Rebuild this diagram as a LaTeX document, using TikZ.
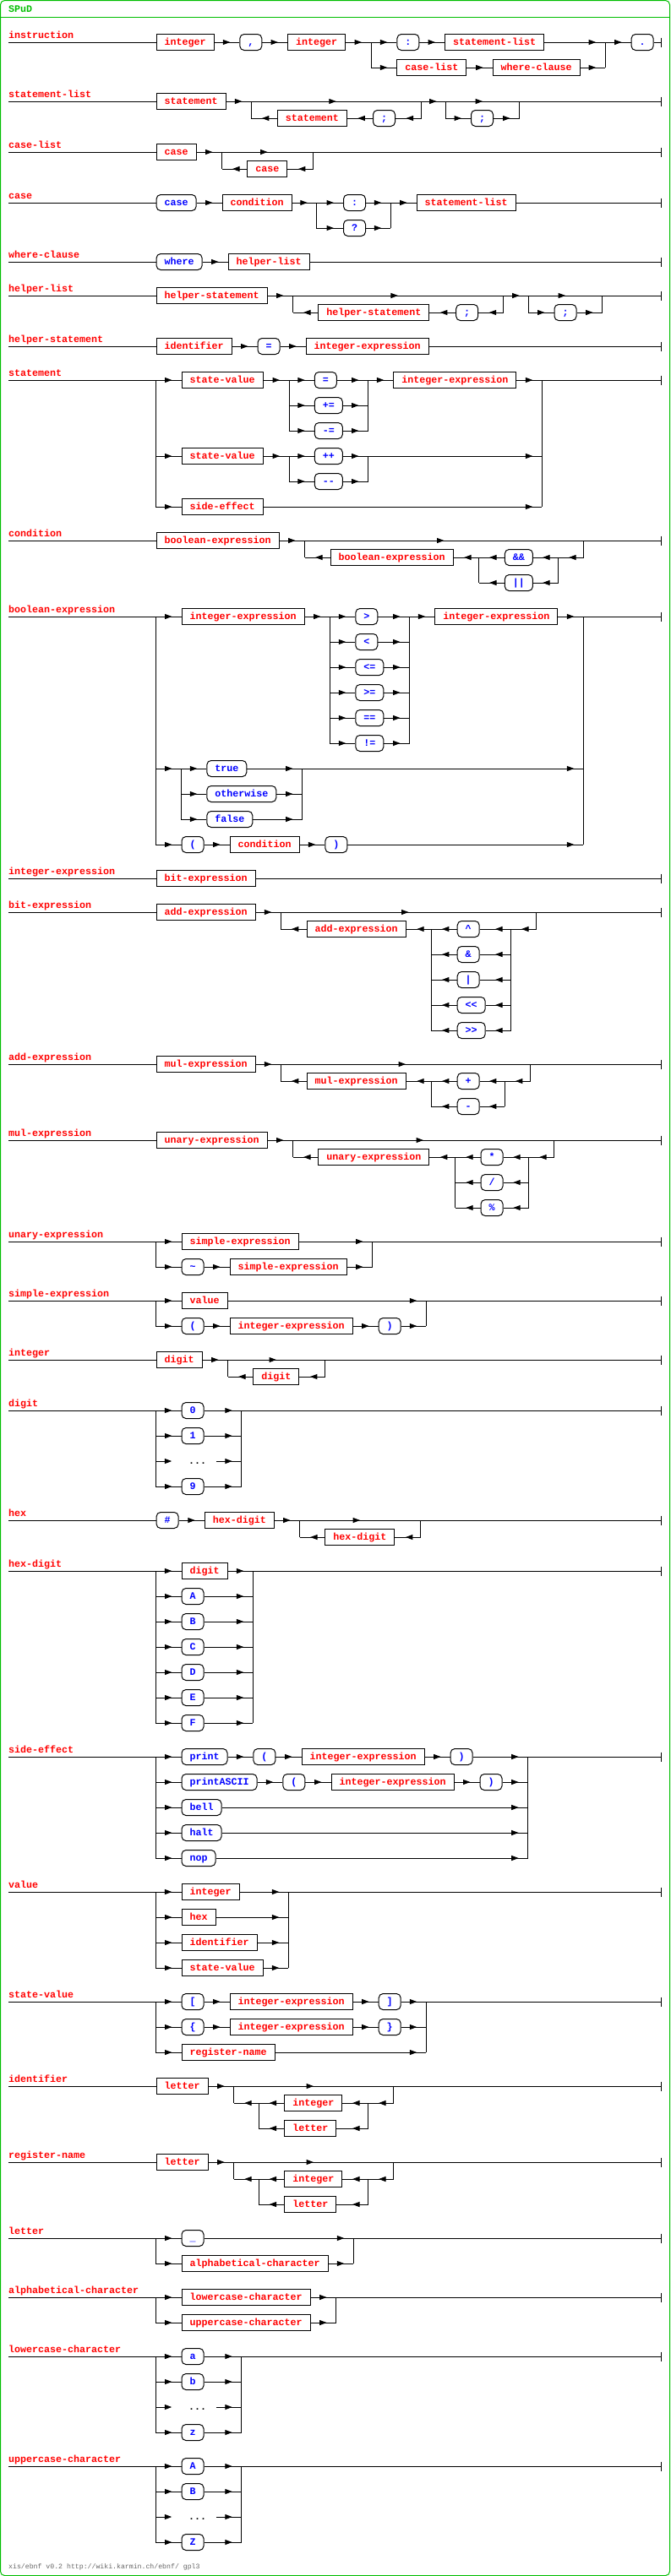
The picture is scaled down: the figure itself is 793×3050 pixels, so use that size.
\documentclass[tikz,border=0pt]{standalone}
\usepackage{fontspec}
\usetikzlibrary{arrows.meta,decorations.markings}
\newfontfamily\railmono{Liberation Mono}[Ligatures=TeXOff]
\newcommand\railfont{\railmono\bfseries\fontsize{11.67pt}{12pt}\selectfont}
\newcommand\footfont{\railmono\fontsize{8.2pt}{9pt}\selectfont}
\definecolor{spudgreen}{RGB}{0,190,0}
\tikzset{
	>={Triangle[length=8.5pt,width=6pt]},
	lnk/.style={draw,line width=1pt},
	arr/.style={lnk,postaction={decorate,decoration={markings,mark=at position #1 with {\arrow{>}}}}},
	arr/.default=-11pt,
	bck/.style={arr=-12.5pt},
	bckop/.style={arr=18.5pt},
	mid/.style={arr=0.5},
	fin/.style={lnk,-{Bar[width=11pt]}},
	nt/.style={draw,line width=1pt,anchor=west,text=red,font=\railfont,minimum height=19pt,inner xsep=9.5pt,inner ysep=0pt,text height=8pt,text depth=2pt},
	term/.style={nt,rounded corners=5pt,text=blue},
	dots/.style={anchor=west,font=\railfont,minimum width=52.1pt,minimum height=19pt,inner sep=0pt,text height=8pt,text depth=2pt},
	rulename/.style={anchor=base west,inner sep=0pt,text=red,font=\railfont}
}
\begin{document}
\begin{tikzpicture}[x=1pt,y=-1pt]
	\useasboundingbox (0,0) rectangle (793,3050);
	\draw[spudgreen,line width=1pt,rounded corners=5pt] (0.5,0.5) rectangle (792.5,3049.5);
	\draw[spudgreen,line width=1pt] (0.5,20.5) -- (792.5,20.5);
	\node[rulename,text=spudgreen] (title) at (10,14) {SPuD};
	\node[anchor=base west,inner sep=0pt,text=black!60,font=\footfont] (footer) at (10,3041) {xis/ebnf v0.2 http://wiki.karmin.ch/ebnf/ gpl3};
	\foreach \ry/\rt [count=\rk] in {50/instruction,120/statement-list,180/case-list,240/case,310/where-clause,
		350/helper-list,410/helper-statement,450/statement,640/condition,730/boolean-expression,
		1040/integer-expression,1080/bit-expression,1260/add-expression,1350/mul-expression,
		1470/unary-expression,1540/simple-expression,1610/integer,1670/digit,1800/hex,1860/hex-digit,
		2080/side-effect,2240/value,2370/state-value,2470/identifier,2560/register-name,2650/letter,
		2720/alphabetical-character,2790/lowercase-character,2920/uppercase-character} {
		\node[rulename] (n\rk) at (10,\ry-5) {\rt};
		\coordinate (s\rk) at (10,\ry);
		\coordinate (e\rk) at (783,\ry);
	}

	\node[nt] (i1) at (184.6,50) {integer};
	\node[term] (i2) at (283.3,50) {,};
	\node[nt] (i3) at (340,50) {integer};
	\coordinate (i4) at (439,50);
	\node[term] (i5) at (469.4,50) {:};
	\node[nt] (i6) at (526,50) {statement-list};
	\node[nt] (i7) at (469.4,80) {case-list};
	\node[nt] (i8) at (582.7,80) {where-clause};
	\coordinate (i9) at (716.2,50);
	\node[term] (i10) at (746.6,50) {.};
	\draw[lnk] (s1) -- (i1);
	\draw[arr] (i1) -- (i2);
	\draw[arr] (i2) -- (i3);
	\draw[arr] (i3) -- (i4);
	\draw[arr] (i4) -- (i5);
	\draw[arr] (i4) |- (i7);
	\draw[arr] (i5) -- (i6);
	\draw[arr] (i7) -- (i8);
	\draw[arr] (i6) -- (i9);
	\draw[arr] (i8) -- (i8 -| i9);
	\draw[lnk] (i9) -- (i9 |- i8);
	\draw[arr] (i9) -- (i10);
	\draw[fin] (i10) -- (e1);

	\node[nt] (sl1) at (184.6,120) {statement};
	\coordinate (sl2) at (297.4,120);
	\coordinate (sl3) at (498.2,120);
	\node[nt] (sl4) at (327.8,140) {statement};
	\node[term] (sl5) at (441,140) {;};
	\coordinate (sl6) at (527.6,120);
	\coordinate (sl7) at (614.6,120);
	\node[term] (sl8) at (557,140) {;};
	\draw[lnk] (s2) -- (sl1);
	\draw[arr] (sl1) -- (sl2);
	\draw[mid] (sl2) -- (sl3);
	\draw[bck] (sl3) |- (sl5);
	\draw[bck] (sl5) -- (sl4);
	\draw[bck] (sl4) -- (sl4 -| sl2);
	\draw[lnk] (sl4 -| sl2) -- (sl2);
	\draw[arr] (sl3) -- (sl6);
	\draw[mid] (sl6) -- (sl7);
	\draw[arr] (sl6) |- (sl8);
	\draw[arr] (sl8) -- (sl8 -| sl7);
	\draw[lnk] (sl8 -| sl7) -- (sl7);
	\draw[fin] (sl7) -- (e2);

	\node[nt] (cl1) at (184.6,180) {case};
	\coordinate (cl2) at (262.5,180);
	\coordinate (cl3) at (370.8,180);
	\node[nt] (cl4) at (292.4,200) {case};
	\draw[lnk] (s3) -- (cl1);
	\draw[arr] (cl1) -- (cl2);
	\draw[mid] (cl2) -- (cl3);
	\draw[bck] (cl3) |- (cl4);
	\draw[bck] (cl4) -- (cl4 -| cl2);
	\draw[lnk] (cl4 -| cl2) -- (cl2);
	\draw[fin] (cl3) -- (e3);

	\node[term] (c1) at (184.6,240) {case};
	\node[nt] (c2) at (262.5,240) {condition};
	\coordinate (c3) at (374.8,240);
	\node[term] (c4) at (406,240) {:};
	\node[term] (c5) at (406,270) {?};
	\coordinate (c6) at (462.3,240);
	\node[nt] (c7) at (492.7,240) {statement-list};
	\draw[lnk] (s4) -- (c1);
	\draw[arr] (c1) -- (c2);
	\draw[arr] (c2) -- (c3);
	\draw[arr] (c3) -- (c4);
	\draw[arr] (c3) |- (c5);
	\draw[arr] (c4) -- (c6);
	\draw[arr] (c5) -- (c5 -| c6);
	\draw[lnk] (c5 -| c6) -- (c6);
	\draw[arr] (c6) -- (c7);
	\draw[fin] (c7) -- (e4);

	\node[term] (w1) at (184.6,310) {where};
	\node[nt] (w2) at (269.6,310) {helper-list};
	\draw[lnk] (s5) -- (w1);
	\draw[arr] (w1) -- (w2);
	\draw[fin] (w2) -- (e5);

	\node[nt] (hl1) at (184.6,350) {helper-statement};
	\coordinate (hl2) at (346.5,350);
	\coordinate (hl3) at (595.4,350);
	\node[nt] (hl4) at (376.3,370) {helper-statement};
	\node[term] (hl5) at (539.2,370) {;};
	\coordinate (hl6) at (625.7,350);
	\coordinate (hl7) at (712.7,350);
	\node[term] (hl8) at (655.5,370) {;};
	\draw[lnk] (s6) -- (hl1);
	\draw[arr] (hl1) -- (hl2);
	\draw[mid] (hl2) -- (hl3);
	\draw[bck] (hl3) |- (hl5);
	\draw[bck] (hl5) -- (hl4);
	\draw[bck] (hl4) -- (hl4 -| hl2);
	\draw[lnk] (hl4 -| hl2) -- (hl2);
	\draw[arr] (hl3) -- (hl6);
	\draw[mid] (hl6) -- (hl7);
	\draw[arr] (hl6) |- (hl8);
	\draw[arr] (hl8) -- (hl8 -| hl7);
	\draw[lnk] (hl8 -| hl7) -- (hl7);
	\draw[fin] (hl7) -- (e6);

	\node[nt] (hs1) at (184.6,410) {identifier};
	\node[term] (hs2) at (304.5,410) {=};
	\node[nt] (hs3) at (361.7,410) {integer-expression};
	\draw[lnk] (s7) -- (hs1);
	\draw[arr] (hs1) -- (hs2);
	\draw[arr] (hs2) -- (hs3);
	\draw[fin] (hs3) -- (e7);

	\coordinate (st0) at (184.6,450);
	\node[nt] (st1) at (214.5,450) {state-value};
	\coordinate (st2) at (342,450);
	\node[term] (st3) at (371.8,450) {=};
	\node[term] (st4) at (371.8,480) {+=};
	\node[term] (st5) at (371.8,510) {-=};
	\coordinate (st6) at (435.5,450);
	\node[nt] (st7) at (465.4,450) {integer-expression};
	\coordinate (st8) at (641.4,450);
	\node[nt] (st9) at (214.5,540) {state-value};
	\coordinate (st10) at (342,540);
	\node[term] (st11) at (371.8,540) {++};
	\node[term] (st12) at (371.8,570) {-{}-};
	\coordinate (st13) at (435.5,540);
	\node[nt] (st14) at (214.5,600) {side-effect};
	\draw[arr] (s8) -- (st1);
	\draw[arr] (st0) |- (st9);
	\draw[arr] (st0) |- (st14);
	\draw[arr] (st1) -- (st2);
	\draw[arr] (st2) -- (st3);
	\draw[arr] (st2) |- (st4);
	\draw[arr] (st2) |- (st5);
	\draw[arr] (st3) -- (st6);
	\draw[arr] (st4) -- (st4 -| st6);
	\draw[arr] (st5) -- (st5 -| st6);
	\draw[lnk] (st6) -- (st6 |- st5);
	\draw[arr] (st6) -- (st7);
	\draw[arr] (st7) -- (st8);
	\draw[arr] (st9) -- (st10);
	\draw[arr] (st10) -- (st11);
	\draw[arr] (st10) |- (st12);
	\draw[arr] (st11) -- (st13);
	\draw[arr] (st12) -- (st12 -| st13);
	\draw[lnk] (st13) -- (st13 |- st12);
	\draw[arr] (st13) -- (st13 -| st8);
	\draw[arr] (st14) -- (st14 -| st8);
	\draw[lnk] (st8) -- (st8 |- st14);
	\draw[fin] (st8) -- (e8);

	\node[nt] (cd1) at (184.6,640) {boolean-expression};
	\coordinate (cd2) at (360.6,640);
	\coordinate (cd3) at (690.4,640);
	\coordinate (cd4) at (660.6,660);
	\node[term] (cd5) at (596.9,660) {\&\&};
	\node[term] (cd6) at (596.9,690) {||};
	\coordinate (cd7) at (566.5,660);
	\node[nt] (cd8) at (390.5,660) {boolean-expression};
	\draw[lnk] (s9) -- (cd1);
	\draw[arr] (cd1) -- (cd2);
	\draw[mid] (cd2) -- (cd3);
	\draw[bck] (cd3) |- (cd4);
	\draw[lnk] (cd4) -- (cd4 |- cd6);
	\draw[bckop] (cd4) -- (cd5);
	\draw[bckop] (cd4 |- cd6) -- (cd6);
	\draw[bck] (cd5) -- (cd7);
	\draw[bck] (cd6) -- (cd6 -| cd7);
	\draw[lnk] (cd7) -- (cd7 |- cd6);
	\draw[bck] (cd7) -- (cd8);
	\draw[bck] (cd8) -- (cd8 -| cd2);
	\draw[lnk] (cd8 -| cd2) -- (cd2);
	\draw[fin] (cd3) -- (e9);

	\coordinate (be0) at (184.6,730);
	\node[nt] (be1) at (214.5,730) {integer-expression};
	\coordinate (be2) at (390.5,730);
	\coordinate (be3) at (484.6,730);
	\node[nt] (be4) at (514.4,730) {integer-expression};
	\coordinate (be5) at (690.4,730);
	\coordinate (be6) at (214.5,910);
	\node[term] (be7) at (244.3,910) {true};
	\node[term] (be8) at (244.3,940) {otherwise};
	\node[term] (be9) at (244.3,970) {false};
	\coordinate (be10) at (357.6,910);
	\node[term] (be11) at (214.5,1000) {(};
	\node[nt] (be12) at (271.6,1000) {condition};
	\node[term] (be13) at (384.4,1000) {)};
	\foreach \op [count=\k from 0] in {>,<,<=,>=,==,!=} {
		\node[term] (bo\k) at (420.3,730+30*\k) {\op};
		\draw[arr] (be2) |- (bo\k);
		\draw[arr] (bo\k) -- (bo\k -| be3);
	}
	\draw[lnk] (be3) -- (be3 |- bo5);
	\draw[arr] (s10) -- (be1);
	\draw[arr] (be0) |- (be6);
	\draw[arr] (be0) |- (be11);
	\draw[arr] (be1) -- (be2);
	\draw[arr] (be3) -- (be4);
	\draw[arr] (be4) -- (be5);
	\draw[arr] (be6) -- (be7);
	\draw[arr] (be6) |- (be8);
	\draw[arr] (be6) |- (be9);
	\draw[arr] (be7) -- (be10);
	\draw[arr] (be8) -- (be8 -| be10);
	\draw[arr] (be9) -- (be9 -| be10);
	\draw[lnk] (be10) -- (be10 |- be9);
	\draw[arr] (be10) -- (be10 -| be5);
	\draw[arr] (be11) -- (be12);
	\draw[arr] (be12) -- (be13);
	\draw[arr] (be13) -- (be13 -| be5);
	\draw[lnk] (be5) -- (be5 |- be13);
	\draw[fin] (be5) -- (e10);

	\node[nt] (ie1) at (184.6,1040) {bit-expression};
	\draw[lnk] (s11) -- (ie1);
	\draw[fin] (ie1) -- (e11);

	\node[nt] (bx1) at (184.6,1080) {add-expression};
	\coordinate (bx2) at (332.3,1080);
	\coordinate (bx3) at (634.8,1080);
	\coordinate (bx4) at (604.5,1100);
	\coordinate (bx5) at (510.4,1100);
	\node[nt] (bx6) at (362.7,1100) {add-expression};
	\foreach \op [count=\k from 0] in {\textasciicircum,\&,|,{<{}<},{>{}>}} {
		\node[term] (bxo\k) at (540.7,1100+30*\k) {\op};
		\draw[bckop] (bx4 |- bxo\k) -- (bxo\k);
		\draw[bck] (bxo\k) -- (bxo\k -| bx5);
	}
	\draw[lnk] (bx4) -- (bx4 |- bxo4);
	\draw[lnk] (bx5) -- (bx5 |- bxo4);
	\draw[lnk] (s12) -- (bx1);
	\draw[arr] (bx1) -- (bx2);
	\draw[mid] (bx2) -- (bx3);
	\draw[bck] (bx3) |- (bx4);
	\draw[bck] (bx5) -- (bx6);
	\draw[bck] (bx6) -- (bx6 -| bx2);
	\draw[lnk] (bx6 -| bx2) -- (bx2);
	\draw[fin] (bx3) -- (e12);

	\node[nt] (ax1) at (184.6,1260) {mul-expression};
	\coordinate (ax2) at (332.3,1260);
	\coordinate (ax3) at (627.7,1260);
	\coordinate (ax4) at (597.4,1280);
	\coordinate (ax5) at (510.4,1280);
	\node[nt] (ax6) at (362.7,1280) {mul-expression};
	\foreach \op [count=\k from 0] in {+,-} {
		\node[term] (axo\k) at (540.7,1280+30*\k) {\op};
		\draw[bckop] (ax4 |- axo\k) -- (axo\k);
		\draw[bck] (axo\k) -- (axo\k -| ax5);
	}
	\draw[lnk] (ax4) -- (ax4 |- axo1);
	\draw[lnk] (ax5) -- (ax5 |- axo1);
	\draw[lnk] (s13) -- (ax1);
	\draw[arr] (ax1) -- (ax2);
	\draw[mid] (ax2) -- (ax3);
	\draw[bck] (ax3) |- (ax4);
	\draw[bck] (ax5) -- (ax6);
	\draw[bck] (ax6) -- (ax6 -| ax2);
	\draw[lnk] (ax6 -| ax2) -- (ax2);
	\draw[fin] (ax3) -- (e13);

	\node[nt] (mx1) at (184.6,1350) {unary-expression};
	\coordinate (mx2) at (346.5,1350);
	\coordinate (mx3) at (655.5,1350);
	\coordinate (mx4) at (625.7,1370);
	\coordinate (mx5) at (538.7,1370);
	\node[nt] (mx6) at (376.3,1370) {unary-expression};
	\foreach \op [count=\k from 0] in {*,/,\%} {
		\node[term] (mxo\k) at (568.5,1370+30*\k) {\op};
		\draw[bckop] (mx4 |- mxo\k) -- (mxo\k);
		\draw[bck] (mxo\k) -- (mxo\k -| mx5);
	}
	\draw[lnk] (mx4) -- (mx4 |- mxo2);
	\draw[lnk] (mx5) -- (mx5 |- mxo2);
	\draw[lnk] (s14) -- (mx1);
	\draw[arr] (mx1) -- (mx2);
	\draw[mid] (mx2) -- (mx3);
	\draw[bck] (mx3) |- (mx4);
	\draw[bck] (mx5) -- (mx6);
	\draw[bck] (mx6) -- (mx6 -| mx2);
	\draw[lnk] (mx6 -| mx2) -- (mx2);
	\draw[fin] (mx3) -- (e14);

	\coordinate (ux0) at (184.6,1470);
	\node[nt] (ux1) at (214.5,1470) {simple-expression};
	\coordinate (ux2) at (440.6,1470);
	\node[term] (ux3) at (214.5,1500) {\textasciitilde};
	\node[nt] (ux4) at (271.6,1500) {simple-expression};
	\draw[arr] (s15) -- (ux1);
	\draw[arr] (ux1) -- (ux2);
	\draw[arr] (ux0) |- (ux3);
	\draw[arr] (ux3) -- (ux4);
	\draw[arr] (ux4) -- (ux4 -| ux2);
	\draw[lnk] (ux2) -- (ux2 |- ux4);
	\draw[fin] (ux2) -- (e15);

	\coordinate (sx0) at (184.6,1540);
	\node[nt] (sx1) at (214.5,1540) {value};
	\coordinate (sx2) at (504.3,1540);
	\node[term] (sx3) at (214.5,1570) {(};
	\node[nt] (sx4) at (271.6,1570) {integer-expression};
	\node[term] (sx5) at (447.7,1570) {)};
	\draw[arr] (s16) -- (sx1);
	\draw[arr] (sx1) -- (sx2);
	\draw[arr] (sx0) |- (sx3);
	\draw[arr] (sx3) -- (sx4);
	\draw[arr] (sx4) -- (sx5);
	\draw[arr] (sx5) -- (sx5 -| sx2);
	\draw[lnk] (sx2) -- (sx2 |- sx5);
	\draw[fin] (sx2) -- (e16);

	\node[nt] (in1) at (184.6,1610) {digit};
	\coordinate (in2) at (269.6,1610);
	\coordinate (in3) at (384.4,1610);
	\node[nt] (in4) at (299.4,1630) {digit};
	\draw[lnk] (s17) -- (in1);
	\draw[arr] (in1) -- (in2);
	\draw[mid] (in2) -- (in3);
	\draw[bck] (in3) |- (in4);
	\draw[bck] (in4) -- (in4 -| in2);
	\draw[lnk] (in4 -| in2) -- (in2);
	\draw[fin] (in3) -- (e17);

	\foreach \ry/\rn/\rk/\ca/\cb/\cz in {1670/dg/18/0/1/9,2790/lc/28/a/b/z,2920/uc/29/A/B/Z} {
		\coordinate (\rn0) at (184.6,\ry);
		\coordinate (\rn9) at (285.8,\ry);
		\node[term] (\rn1) at (214.5,\ry) {\ca};
		\node[term] (\rn2) at (214.5,\ry+30) {\cb};
		\node[dots] (\rn3) at (203.3,\ry+60) {\hspace*{8pt}...};
		\node[term] (\rn4) at (214.5,\ry+90) {\cz};
		\draw[lnk] (s\rk) -- (\rn0);
		\foreach \k in {1,2,4} {
			\draw[arr] (\rn0) |- (\rn\k);
			\draw[arr] (\rn\k) -- (\rn\k -| \rn9);
		}
		\draw[lnk,->] (\rn0) |- (\rn3);
		\draw[arr] (\rn3) -- (\rn3 -| \rn9);
		\draw[lnk] (\rn9) -- (\rn9 |- \rn4);
		\draw[fin] (\rn9) -- (e\rk);
	}

	\node[term] (hx1) at (184.6,1800) {\#};
	\node[nt] (hx2) at (241.8,1800) {hex-digit};
	\coordinate (hx3) at (354.6,1800);
	\coordinate (hx4) at (497.7,1800);
	\node[nt] (hx5) at (384.4,1820) {hex-digit};
	\draw[lnk] (s19) -- (hx1);
	\draw[arr] (hx1) -- (hx2);
	\draw[arr] (hx2) -- (hx3);
	\draw[mid] (hx3) -- (hx4);
	\draw[bck] (hx4) |- (hx5);
	\draw[bck] (hx5) -- (hx5 -| hx3);
	\draw[lnk] (hx5 -| hx3) -- (hx3);
	\draw[fin] (hx4) -- (e19);

	\coordinate (hd0) at (184.6,1860);
	\coordinate (hd9) at (299.4,1860);
	\node[nt] (hd1) at (214.5,1860) {digit};
	\foreach \c [count=\k from 2] in {A,B,C,D,E,F}
		\node[term] (hd\k) at (214.5,1830+30*\k) {\c};
	\draw[lnk] (s20) -- (hd0);
	\foreach \k in {1,...,7} {
		\draw[arr] (hd0) |- (hd\k);
		\draw[arr] (hd\k) -- (hd\k -| hd9);
	}
	\draw[lnk] (hd9) -- (hd9 |- hd7);
	\draw[fin] (hd9) -- (e20);

	\coordinate (se0) at (184.6,2080);
	\coordinate (seR) at (624.7,2080);
	\node[term] (se1) at (214.5,2080) {print};
	\node[term] (se2) at (299.4,2080) {(};
	\node[nt] (se3) at (356.6,2080) {integer-expression};
	\node[term] (se4) at (532.6,2080) {)};
	\node[term] (se5) at (214.5,2110) {printASCII};
	\node[term] (se6) at (334.3,2110) {(};
	\node[nt] (se7) at (391.5,2110) {integer-expression};
	\node[term] (se8) at (567.5,2110) {)};
	\draw[arr] (s21) -- (se1);
	\draw[arr] (se1) -- (se2);
	\draw[arr] (se2) -- (se3);
	\draw[arr] (se3) -- (se4);
	\draw[arr] (se4) -- (seR);
	\draw[arr] (se0) |- (se5);
	\draw[arr] (se5) -- (se6);
	\draw[arr] (se6) -- (se7);
	\draw[arr] (se7) -- (se8);
	\draw[arr] (se8) -- (se8 -| seR);
	\foreach \w [count=\k] in {bell,halt,nop} {
		\node[term] (sw\k) at (214.5,2110+30*\k) {\w};
		\draw[arr] (se0) |- (sw\k);
		\draw[arr] (sw\k) -- (sw\k -| seR);
	}
	\draw[lnk] (seR) -- (seR |- sw3);
	\draw[fin] (seR) -- (e21);

	\coordinate (va0) at (184.6,2240);
	\coordinate (va9) at (341.4,2240);
	\draw[lnk] (s22) -- (va0);
	\foreach \w [count=\k] in {integer,hex,identifier,state-value} {
		\node[nt] (va\k) at (214.5,2210+30*\k) {\w};
		\draw[arr] (va0) |- (va\k);
		\draw[arr] (va\k) -- (va\k -| va9);
	}
	\draw[lnk] (va9) -- (va9 |- va4);
	\draw[fin] (va9) -- (e22);

	\coordinate (svL) at (184.6,2370);
	\coordinate (svR) at (504.3,2370);
	\node[term] (sv1) at (214.5,2370) {[};
	\node[nt] (sv2) at (271.6,2370) {integer-expression};
	\node[term] (sv3) at (447.7,2370) {]};
	\node[term] (sv4) at (214.5,2400) {\{};
	\node[nt] (sv5) at (271.6,2400) {integer-expression};
	\node[term] (sv6) at (447.7,2400) {\}};
	\node[nt] (sv7) at (214.5,2430) {register-name};
	\draw[arr] (s23) -- (sv1);
	\draw[arr] (sv1) -- (sv2);
	\draw[arr] (sv2) -- (sv3);
	\draw[arr] (sv3) -- (svR);
	\draw[arr] (svL) |- (sv4);
	\draw[arr] (sv4) -- (sv5);
	\draw[arr] (sv5) -- (sv6);
	\draw[arr] (sv6) -- (sv6 -| svR);
	\draw[arr] (svL) |- (sv7);
	\draw[arr] (sv7) -- (sv7 -| svR);
	\draw[lnk] (svR) -- (svR |- sv7);
	\draw[fin] (svR) -- (e23);

	\foreach \ry/\rn/\rk in {2470/id/24,2560/rn/25} {
		\node[nt] (\rn1) at (184.6,\ry) {letter};
		\coordinate (\rn2) at (276.7,\ry);
		\coordinate (\rn3) at (465.4,\ry);
		\coordinate (\rn4) at (435.5,\ry+20);
		\coordinate (\rn5) at (306,\ry+20);
		\node[nt] (\rn6) at (336.4,\ry+20) {integer};
		\node[nt] (\rn7) at (336.4,\ry+50) {letter};
		\draw[lnk] (s\rk) -- (\rn1);
		\draw[arr] (\rn1) -- (\rn2);
		\draw[mid] (\rn2) -- (\rn3);
		\draw[bck] (\rn3) |- (\rn4);
		\draw[lnk] (\rn4) -- (\rn4 |- \rn7);
		\draw[bckop] (\rn4) -- (\rn6);
		\draw[bckop] (\rn4 |- \rn7) -- (\rn7);
		\draw[bck] (\rn6) -- (\rn5);
		\draw[bck] (\rn7) -- (\rn7 -| \rn5);
		\draw[lnk] (\rn5) -- (\rn5 |- \rn7);
		\draw[bck] (\rn5) -- (\rn5 -| \rn2);
		\draw[lnk] (\rn5 -| \rn2) -- (\rn2);
		\draw[fin] (\rn3) -- (e\rk);
	}

	\coordinate (ltL) at (184.6,2650);
	\coordinate (ltR) at (418.3,2650);
	\node[term] (lt1) at (214.5,2650) {\_};
	\node[nt] (lt2) at (214.5,2680) {alphabetical-character};
	\draw[arr] (s26) -- (lt1);
	\draw[arr] (lt1) -- (ltR);
	\draw[arr] (ltL) |- (lt2);
	\draw[arr] (lt2) -- (lt2 -| ltR);
	\draw[lnk] (ltR) -- (ltR |- lt2);
	\draw[fin] (ltR) -- (e26);

	\coordinate (acL) at (184.6,2720);
	\coordinate (acR) at (397.6,2720);
	\node[nt] (ac1) at (214.5,2720) {lowercase-character};
	\node[nt] (ac2) at (214.5,2750) {uppercase-character};
	\draw[arr] (s27) -- (ac1);
	\draw[arr] (ac1) -- (acR);
	\draw[arr] (acL) |- (ac2);
	\draw[arr] (ac2) -- (ac2 -| acR);
	\draw[lnk] (acR) -- (acR |- ac2);
	\draw[fin] (acR) -- (e27);
\end{tikzpicture}
\end{document}
